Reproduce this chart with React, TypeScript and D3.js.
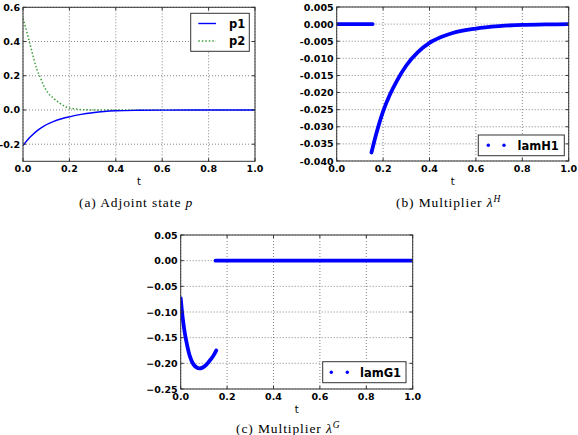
import * as d3 from 'd3';

// shared x axis
const tTicks = [0, 0.2, 0.4, 0.6, 0.8, 1.0];
const tTickLabels = ['0.0', '0.2', '0.4', '0.6', '0.8', '1.0'];

// (a) adjoint state
const p1T = [0, 0.03, 0.06, 0.09, 0.13, 0.17, 0.2, 0.25, 0.3, 0.35, 0.4, 0.5, 0.6, 0.8, 1.0];
const p1V = [-0.208, -0.16, -0.122, -0.094, -0.068, -0.05, -0.04, -0.026, -0.016, -0.009, -0.005, -0.002, -0.001, 0, 0];
const p2T = [0, 0.015, 0.025, 0.036, 0.047, 0.06, 0.075, 0.09, 0.108, 0.13, 0.158, 0.187, 0.223, 0.27, 0.32, 0.4, 0.6, 0.8, 1.0];
const p2V = [0.535, 0.463, 0.41, 0.355, 0.296, 0.237, 0.188, 0.14, 0.1, 0.07, 0.04, 0.017, 0.006, 0.001, 0, 0, 0, 0, 0];
const aYTicks = [-0.2, 0, 0.2, 0.4, 0.6];
const aYLabels = ['-0.2', '0.0', '0.2', '0.4', '0.6'];

// (b) multiplier lamH1
const lamH1ZeroT = [0, 0.155];
const lamH1ZeroV = [0, 0];
const lamH1T = [0.15, 0.17, 0.2, 0.23, 0.26, 0.3, 0.35, 0.4, 0.45, 0.5, 0.6, 0.7, 0.8, 0.9, 1.0];
const lamH1V = [-0.0375, -0.0322, -0.0255, -0.0205, -0.0165, -0.0121, -0.0082, -0.0055, -0.0038, -0.0026, -0.0013, -0.0006, -0.0002, -0.0001, 0];
const bYTicks = [0.005, 0, -0.005, -0.01, -0.015, -0.02, -0.025, -0.03, -0.035, -0.04];
const bYLabels = ['0.005', '0.000', '-0.005', '-0.010', '-0.015', '-0.020', '-0.025', '-0.030', '-0.035', '-0.040'];

// (c) multiplier lamG1
const lamG1T = [0, 0.005, 0.011, 0.018, 0.026, 0.04, 0.055, 0.068, 0.081, 0.095, 0.11, 0.13, 0.145, 0.153];
const lamG1V = [-0.073, -0.097, -0.12, -0.142, -0.161, -0.187, -0.202, -0.208, -0.21, -0.208, -0.203, -0.192, -0.182, -0.175];
const lamG1ZeroT = [0.15, 1.0];
const lamG1ZeroV = [0, 0];
const cYTicks = [0.05, 0, -0.05, -0.1, -0.15, -0.2, -0.25];
const cYLabels = ['0.05', '0.00', '\u22120.05', '\u22120.10', '\u22120.15', '\u22120.20', '\u22120.25'];

const W = 232;
const H = 154;
const BLUE = '#0000ff';
const GREEN = '#3f9f3f';
const AXIS = '#333';
const TICK_FONT = { fontFamily: 'DejaVu Sans', fontWeight: 'bold', fontSize: 9.5 } as const;

type Scales = { x: d3.ScaleLinear<number, number>; y: d3.ScaleLinear<number, number> };

function pathOf(ts: number[], vs: number[], { x, y }: Scales) {
	const line = d3
		.line<number>()
		.x((_, i) => x(ts[i]))
		.y(d => y(d))
		.curve(d3.curveMonotoneX);
	return line(vs) ?? '';
}

function Panel({
	id,
	left,
	top,
	yDomain,
	yTicks,
	yLabels,
	children,
}: {
	id: string;
	left: number;
	top: number;
	yDomain: [number, number];
	yTicks: number[];
	yLabels: string[];
	children: (s: Scales) => React.ReactNode;
}) {
	const x = d3.scaleLinear().domain([0, 1]).range([0, W]);
	const y = d3.scaleLinear().domain(yDomain).range([H, 0]);
	return (
		<g transform={`translate(${left},${top})`}>
			<defs>
				<clipPath id={id}>
					<rect x={0} y={0} width={W} height={H} />
				</clipPath>
			</defs>
			<rect x={0} y={0} width={W} height={H} fill="#fff" />
			{tTicks.map(t => (
				<line key={'gx' + t} x1={x(t)} x2={x(t)} y1={0} y2={H} stroke="#666" strokeWidth={0.8} strokeDasharray="1,2" />
			))}
			{yTicks.map(v => (
				<line key={'gy' + v} x1={0} x2={W} y1={y(v)} y2={y(v)} stroke="#666" strokeWidth={0.8} strokeDasharray="1,2" />
			))}
			<g clipPath={`url(#${id})`}>{children({ x, y })}</g>
			{tTicks.map(t => (
				<g key={'tx' + t}>
					<line x1={x(t)} x2={x(t)} y1={H} y2={H - 3} stroke={AXIS} />
					<line x1={x(t)} x2={x(t)} y1={0} y2={3} stroke={AXIS} />
				</g>
			))}
			{yTicks.map(v => (
				<g key={'ty' + v}>
					<line x1={0} x2={3} y1={y(v)} y2={y(v)} stroke={AXIS} />
					<line x1={W} x2={W - 3} y1={y(v)} y2={y(v)} stroke={AXIS} />
				</g>
			))}
			<rect x={0} y={0} width={W} height={H} fill="none" stroke={AXIS} strokeWidth={1} />
			{tTicks.map((t, i) => (
				<text key={'lx' + t} x={x(t)} y={H + 11} textAnchor="middle" {...TICK_FONT}>
					{tTickLabels[i]}
				</text>
			))}
			{yTicks.map((v, i) => (
				<text key={'ly' + v} x={-3} y={y(v) + 3.5} textAnchor="end" {...TICK_FONT}>
					{yLabels[i]}
				</text>
			))}
			<text x={W / 2} y={H + 24} textAnchor="middle" fontFamily="DejaVu Sans" fontSize={10}>
				t
			</text>
		</g>
	);
}

const CAPTION = { fontFamily: 'Liberation Serif', fontSize: 13.5, letterSpacing: 0.9 } as const;

export default function App() {
	return (
		<svg width={578} height={435} style={{ position: 'absolute', left: 0, top: 0, background: '#fff' }}>
			<Panel id="ca" left={23} top={7.3} yDomain={[-0.3, 0.6]} yTicks={aYTicks} yLabels={aYLabels}>
				{s => (
					<>
						<path d={pathOf(p2T, p2V, s)} fill="none" stroke={GREEN} strokeWidth={1.5} strokeDasharray="1.5,2" />
						<path d={pathOf(p1T, p1V, s)} fill="none" stroke={BLUE} strokeWidth={1.4} />
					</>
				)}
			</Panel>
			<g>
				<rect x={190.7} y={13.3} width={58.6} height={38} fill="#fff" stroke={AXIS} strokeWidth={1} />
				<line x1={198.3} x2={216} y1={23.5} y2={23.5} stroke={BLUE} strokeWidth={1.4} />
				<line x1={198.3} x2={216} y1={41} y2={41} stroke={GREEN} strokeWidth={1.5} strokeDasharray="1.5,2" />
				<text x={229} y={27.5} fontFamily="DejaVu Sans" fontWeight="bold" fontSize={11.5}>
					p1
				</text>
				<text x={229} y={45} fontFamily="DejaVu Sans" fontWeight="bold" fontSize={11.5}>
					p2
				</text>
			</g>

			<Panel id="cb" left={336.7} top={7} yDomain={[-0.04, 0.005]} yTicks={bYTicks} yLabels={bYLabels}>
				{s => (
					<>
						<path d={pathOf(lamH1ZeroT, lamH1ZeroV, s)} fill="none" stroke={BLUE} strokeWidth={3.8} strokeLinecap="round" />
						<path d={pathOf(lamH1T, lamH1V, s)} fill="none" stroke={BLUE} strokeWidth={3.8} strokeLinecap="round" />
					</>
				)}
			</Panel>
			<g>
				<rect x={478.3} y={135} width={86} height={20.7} fill="#fff" stroke={AXIS} strokeWidth={1} />
				<circle cx={488.3} cy={145.3} r={1.7} fill={BLUE} />
				<circle cx={504} cy={145.3} r={1.7} fill={BLUE} />
				<text x={517.5} y={149.5} fontFamily="DejaVu Sans" fontWeight="bold" fontSize={11.5}>
					lamH1
				</text>
			</g>

			<Panel id="cc" left={180.7} top={235} yDomain={[-0.25, 0.05]} yTicks={cYTicks} yLabels={cYLabels}>
				{s => (
					<>
						<path d={pathOf(lamG1T, lamG1V, s)} fill="none" stroke={BLUE} strokeWidth={3.8} strokeLinecap="round" />
						<path d={pathOf(lamG1ZeroT, lamG1ZeroV, s)} fill="none" stroke={BLUE} strokeWidth={3.8} strokeLinecap="round" />
					</>
				)}
			</Panel>
			<g>
				<rect x={322.7} y={361.7} width={83.3} height={21} fill="#fff" stroke={AXIS} strokeWidth={1} />
				<circle cx={331.3} cy={372.3} r={1.7} fill={BLUE} />
				<circle cx={347.3} cy={372.3} r={1.7} fill={BLUE} />
				<text x={360} y={376.5} fontFamily="DejaVu Sans" fontWeight="bold" fontSize={11.5}>
					lamG1
				</text>
			</g>

			<text x={79} y={207} {...CAPTION}>
				(a) Adjoint state <tspan fontStyle="italic">p</tspan>
			</text>
			<text x={396} y={207} {...CAPTION}>
				(b) Multiplier <tspan fontStyle="italic">λ</tspan>
				<tspan fontStyle="italic" fontSize={9.5} dy={-5}>
					H
				</tspan>
			</text>
			<text x={236} y={433} {...CAPTION}>
				(c) Multiplier <tspan fontStyle="italic">λ</tspan>
				<tspan fontStyle="italic" fontSize={9.5} dy={-5}>
					G
				</tspan>
			</text>
		</svg>
	);
}
